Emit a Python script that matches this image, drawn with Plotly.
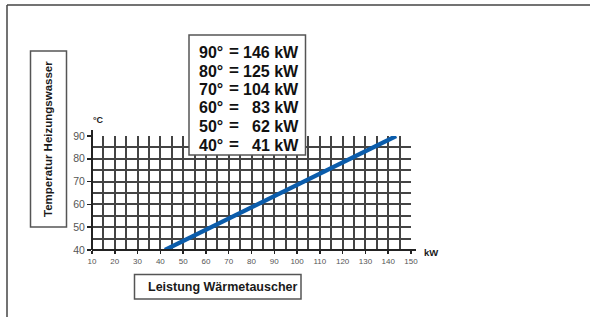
import plotly.graph_objects as go

# ---- data ----
temps = [40, 50, 60, 70, 80, 90]                 # °C
kw_curve = [42, 62.3, 82.6, 102.9, 123.2, 143.5]  # kW
legend_temps = [90, 80, 70, 60, 50, 40]
legend_kw = [146, 125, 104, 83, 62, 41]
x_ticks = list(range(10, 151, 10))
y_ticks = list(range(40, 91, 10))

W, H = 590, 317
L, R, T, B = 92, 179, 136, 67
PW, PH = W - L - R, H - T - B

def px(x):
    return (x - L) / PW

def py(y):
    return (H - B - y) / PH

FONT = "Arial, Liberation Sans, Helvetica, sans-serif"
DARK = "#222222"
GRID = "#444444"
GW = 2

fig = go.Figure()
fig.add_trace(go.Scatter(x=kw_curve, y=temps, mode="lines",
                         line=dict(color="#0a5cab", width=4.2),
                         hoverinfo="skip", showlegend=False))

fig.update_xaxes(range=[10, 150], tickmode="array", tickvals=x_ticks, ticklen=3,
                 showgrid=True, gridcolor=GRID, gridwidth=GW,
                 zeroline=False, showline=False, ticks="outside",
                 tickcolor=DARK, tickwidth=1.5,
                 tickfont=dict(family=FONT, color="#555", size=8),
                 minor=dict(dtick=5, showgrid=True, gridcolor=GRID, gridwidth=GW))
fig.update_yaxes(range=[40, 90], tickmode="array", tickvals=y_ticks, ticklen=4,
                 showgrid=True, gridcolor=GRID, gridwidth=GW,
                 zeroline=False, showline=False, ticks="outside",
                 tickcolor=DARK, tickwidth=1.5,
                 tickfont=dict(family=FONT, color="#555", size=10.5),
                 minor=dict(dtick=5, showgrid=True, gridcolor=GRID, gridwidth=GW))

shapes = []
# outer frame (top + left)
shapes.append(dict(type="line", xref="paper", yref="paper", x0=px(7), x1=px(W + 2), y0=py(5), y1=py(5),
                   line=dict(color="#444", width=1.5)))
shapes.append(dict(type="line", xref="paper", yref="paper", x0=px(7), x1=px(7), y0=py(5), y1=py(H + 2),
                   line=dict(color="#444", width=1.5)))
# axes lines with extension
shapes.append(dict(type="line", xref="paper", yref="paper", x0=px(92), x1=px(416), y0=0, y1=0,
                   line=dict(color=DARK, width=2)))
shapes.append(dict(type="line", xref="paper", yref="paper", x0=0, x1=0, y0=0, y1=py(130),
                   line=dict(color=DARK, width=2)))
# legend box
shapes.append(dict(type="rect", xref="paper", yref="paper", x0=px(189), x1=px(305.5), y0=py(155), y1=py(35),
                   line=dict(color="#555", width=1.5), fillcolor="white", layer="above"))
# y title box
shapes.append(dict(type="rect", xref="paper", yref="paper", x0=px(30.5), x1=px(66.5), y0=py(227), y1=py(51),
                   line=dict(color="#555", width=1.5), fillcolor="white"))
# x title box
shapes.append(dict(type="rect", xref="paper", yref="paper", x0=px(134.5), x1=px(301), y0=py(299), y1=py(274.5),
                   line=dict(color="#555", width=1.5), fillcolor="white"))

annotations = []
row_y = [52.5, 71, 89.5, 108, 126.5, 145]
LF = dict(family=FONT, size=16, color="#111")
for t, k, yy in zip(legend_temps, legend_kw, row_y):
    annotations.append(dict(xref="paper", yref="paper", x=px(197), y=py(yy), text=f"<b>{t}°</b>",
                            xanchor="left", yanchor="middle", showarrow=False, font=LF))
    annotations.append(dict(xref="paper", yref="paper", x=px(234), y=py(yy - 1), text="<b>=</b>",
                            xanchor="center", yanchor="middle", showarrow=False, borderpad=0,
                            font=dict(family=FONT, size=17, color="#111")))
    annotations.append(dict(xref="paper", yref="paper", x=px(301), y=py(yy), text=f"<b>{k} kW</b>",
                            xanchor="right", yanchor="middle", showarrow=False, font=LF))
annotations.append(dict(xref="paper", yref="paper", x=px(48), y=py(139),
                        text="<b>Temperatur Heizungswasser</b>", textangle=-90,
                        xanchor="center", yanchor="middle", showarrow=False,
                        font=dict(family=FONT, size=11.5, color="#1a1a1a")))
annotations.append(dict(xref="paper", yref="paper", x=px(222), y=py(287),
                        text="<b>Leistung Wärmetauscher</b>",
                        xanchor="center", yanchor="middle", showarrow=False,
                        font=dict(family=FONT, size=12.5, color="#1a1a1a")))
annotations.append(dict(xref="paper", yref="paper", x=px(91), y=py(120),
                        text="<b>°C</b>", xanchor="left", yanchor="middle", showarrow=False,
                        font=dict(family=FONT, size=9, color="#1a1a1a")))
annotations.append(dict(xref="paper", yref="paper", x=px(422), y=py(252),
                        text="<b>kW</b>", xanchor="left", yanchor="middle", showarrow=False,
                        font=dict(family=FONT, size=9.5, color="#1a1a1a")))

fig.update_layout(width=W, height=H, margin=dict(l=L, r=R, t=T, b=B),
                  paper_bgcolor="white", plot_bgcolor="white",
                  shapes=shapes, annotations=annotations, showlegend=False)

fig.write_html("out.html", config={"displayModeBar": False, "staticPlot": True},
               post_script="document.body.style.margin='0';document.body.style.overflow='hidden';")
